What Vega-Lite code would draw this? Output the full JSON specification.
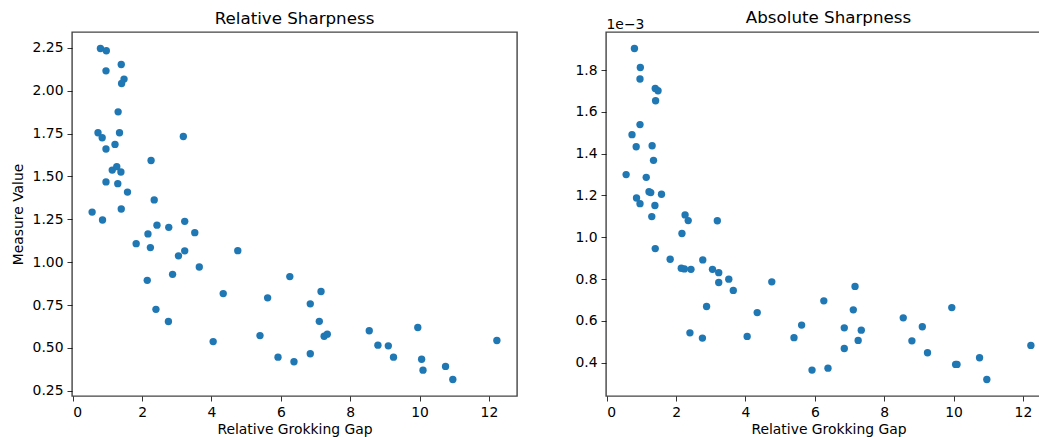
{
  "$schema": "https://vega.github.io/schema/vega-lite/v6.json",
  "background": "white",
  "padding": {"left": 10, "top": 9, "right": 0, "bottom": 0},
  "config": {
    "font": "DejaVu Sans",
    "view": {"stroke": "#444444", "strokeWidth": 1.4},
    "style": {"cell": {"stroke": "#444444", "strokeWidth": 1.4}},
    "axis": {
      "grid": false,
      "domain": false,
      "tickColor": "black",
      "tickSize": 5,
      "tickWidth": 0.8,
      "labelFontSize": 13.9,
      "labelColor": "black",
      "labelPadding": 4,
      "titleFontSize": 13.9,
      "titleFontWeight": "normal",
      "titleColor": "black",
      "titlePadding": 5
    },
    "axisX": {"titlePadding": 4},
    "title": {"fontSize": 16.7, "fontWeight": "normal", "color": "black", "offset": 4}
  },
  "data": {
    "values": [
      {"gap": 0.80, "relative": 2.246, "absolute": 0.001903},
      {"gap": 0.97, "relative": 2.233, "absolute": 0.001812},
      {"gap": 0.96, "relative": 2.116, "absolute": 0.001757},
      {"gap": 1.40, "relative": 2.153, "absolute": 0.001712},
      {"gap": 1.48, "relative": 2.068, "absolute": 0.001701},
      {"gap": 1.41, "relative": 2.042, "absolute": 0.001653},
      {"gap": 1.31, "relative": 1.877, "absolute": 0.001438},
      {"gap": 0.73, "relative": 1.755, "absolute": 0.001491},
      {"gap": 0.85, "relative": 1.726, "absolute": 0.001433},
      {"gap": 1.35, "relative": 1.755, "absolute": 0.001368},
      {"gap": 3.19, "relative": 1.733, "absolute": 0.001079},
      {"gap": 1.22, "relative": 1.687, "absolute": 0.001218},
      {"gap": 0.96, "relative": 1.660, "absolute": 0.001539},
      {"gap": 2.26, "relative": 1.593, "absolute": 0.001107},
      {"gap": 1.14, "relative": 1.537, "absolute": 0.001287},
      {"gap": 1.27, "relative": 1.557, "absolute": 0.001214},
      {"gap": 1.39, "relative": 1.526, "absolute": 0.001152},
      {"gap": 0.96, "relative": 1.468, "absolute": 0.001161},
      {"gap": 1.30, "relative": 1.458, "absolute": 0.001099},
      {"gap": 1.58, "relative": 1.409, "absolute": 0.001206},
      {"gap": 2.35, "relative": 1.363, "absolute": 0.001080},
      {"gap": 1.40, "relative": 1.310, "absolute": 0.000946},
      {"gap": 0.56, "relative": 1.292, "absolute": 0.001300},
      {"gap": 0.86, "relative": 1.246, "absolute": 0.001188},
      {"gap": 3.23, "relative": 1.238, "absolute": 0.000831},
      {"gap": 2.43, "relative": 1.216, "absolute": 0.000847},
      {"gap": 2.77, "relative": 1.203, "absolute": 0.000892},
      {"gap": 3.52, "relative": 1.172, "absolute": 0.000800},
      {"gap": 2.17, "relative": 1.165, "absolute": 0.001018},
      {"gap": 1.83, "relative": 1.108, "absolute": 0.000895},
      {"gap": 2.24, "relative": 1.085, "absolute": 0.000849},
      {"gap": 4.76, "relative": 1.067, "absolute": 0.000787},
      {"gap": 3.23, "relative": 1.066, "absolute": 0.000784},
      {"gap": 3.05, "relative": 1.037, "absolute": 0.000847},
      {"gap": 3.65, "relative": 0.972, "absolute": 0.000746},
      {"gap": 2.88, "relative": 0.929, "absolute": 0.000669},
      {"gap": 2.15, "relative": 0.894, "absolute": 0.000852},
      {"gap": 6.26, "relative": 0.916, "absolute": 0.000696},
      {"gap": 4.34, "relative": 0.817, "absolute": 0.000640},
      {"gap": 5.62, "relative": 0.792, "absolute": 0.000580},
      {"gap": 2.40, "relative": 0.725, "absolute": 0.000543},
      {"gap": 2.76, "relative": 0.654, "absolute": 0.000518},
      {"gap": 5.40, "relative": 0.572, "absolute": 0.000520},
      {"gap": 4.05, "relative": 0.537, "absolute": 0.000526},
      {"gap": 5.92, "relative": 0.446, "absolute": 0.000365},
      {"gap": 6.38, "relative": 0.419, "absolute": 0.000374},
      {"gap": 7.16, "relative": 0.829, "absolute": 0.000765},
      {"gap": 6.85, "relative": 0.757, "absolute": 0.000567},
      {"gap": 7.11, "relative": 0.655, "absolute": 0.000653},
      {"gap": 7.25, "relative": 0.568, "absolute": 0.000507},
      {"gap": 7.34, "relative": 0.580, "absolute": 0.000556},
      {"gap": 8.55, "relative": 0.600, "absolute": 0.000615},
      {"gap": 9.95, "relative": 0.619, "absolute": 0.000664},
      {"gap": 8.80, "relative": 0.516, "absolute": 0.000505},
      {"gap": 9.10, "relative": 0.512, "absolute": 0.000572},
      {"gap": 9.25, "relative": 0.446, "absolute": 0.000448},
      {"gap": 6.85, "relative": 0.466, "absolute": 0.000468},
      {"gap": 10.06, "relative": 0.434, "absolute": 0.000392},
      {"gap": 10.10, "relative": 0.370, "absolute": 0.000392},
      {"gap": 10.75, "relative": 0.392, "absolute": 0.000424},
      {"gap": 10.96, "relative": 0.316, "absolute": 0.000320},
      {"gap": 12.23, "relative": 0.543, "absolute": 0.000483}
    ]
  },
  "spacing": 89,
  "bounds": "flush",
  "hconcat": [
    {
      "title": {"text": "Relative Sharpness", "anchor": "middle"},
      "width": 445,
      "height": 364,
      "mark": {"type": "circle", "size": 54, "opacity": 1, "color": "#1f77b4"},
      "encoding": {
        "x": {
          "field": "gap",
          "type": "quantitative",
          "scale": {"domain": [-0.02, 12.81], "nice": false, "zero": false},
          "axis": {"values": [0, 2, 4, 6, 8, 10, 12], "title": "Relative Grokking Gap"}
        },
        "y": {
          "field": "relative",
          "type": "quantitative",
          "scale": {"domain": [0.2195, 2.3425], "nice": false, "zero": false},
          "axis": {
            "values": [0.25, 0.5, 0.75, 1.0, 1.25, 1.5, 1.75, 2.0, 2.25],
            "format": ".2f",
            "title": "Measure Value",
            "minExtent": 42,
            "maxExtent": 42
          }
        }
      }
    },
    {
      "title": {"text": "Absolute Sharpness", "anchor": "middle", "offset": -10},
      "width": 445,
      "height": 364,
      "mark": {"type": "circle", "size": 54, "opacity": 1, "color": "#1f77b4"},
      "encoding": {
        "x": {
          "field": "gap",
          "type": "quantitative",
          "scale": {"domain": [-0.02, 12.81], "nice": false, "zero": false},
          "axis": {"values": [0, 2, 4, 6, 8, 10, 12], "title": "Relative Grokking Gap"}
        },
        "y": {
          "field": "absolute",
          "type": "quantitative",
          "scale": {"domain": [0.000241, 0.001982], "nice": false, "zero": false},
          "axis": {
            "values": [0.0004, 0.0006, 0.0008, 0.001, 0.0012, 0.0014, 0.0016, 0.0018],
            "labelExpr": "format(datum.value * 1000, '.1f')",
            "title": "1e−3",
            "titleAngle": 0,
            "titleX": 0,
            "titleY": -4,
            "titleAlign": "left",
            "titleBaseline": "alphabetic"
          }
        }
      }
    }
  ]
}
